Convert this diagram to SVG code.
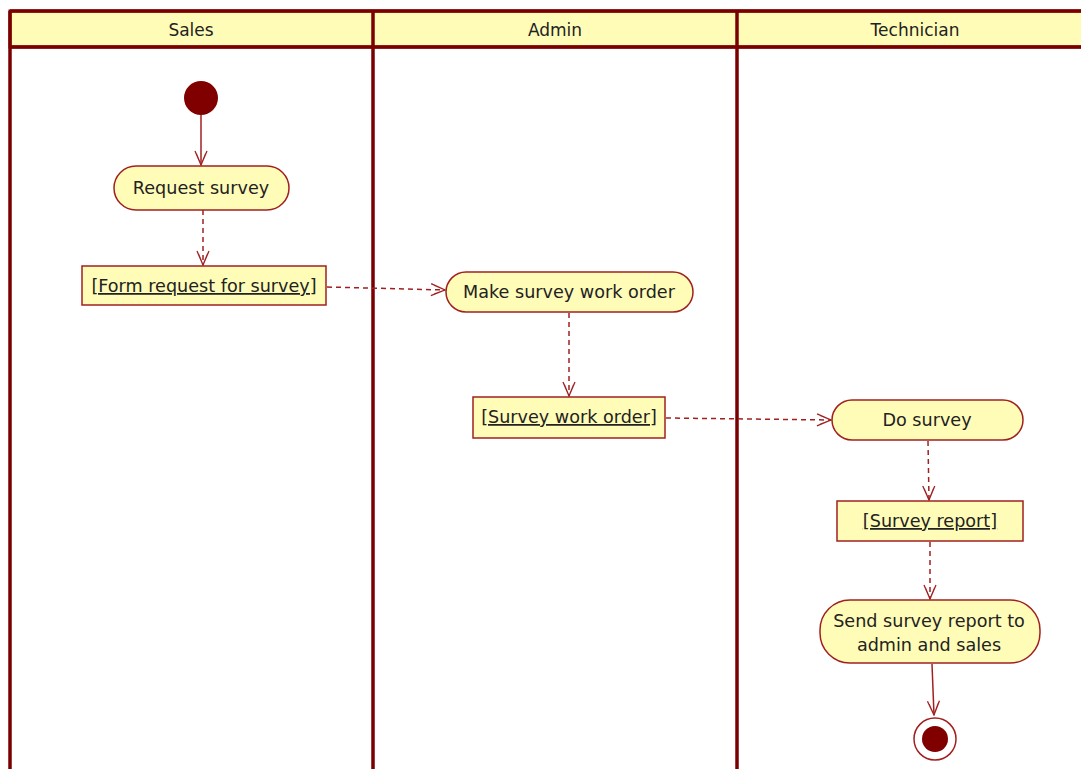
<svg xmlns="http://www.w3.org/2000/svg" width="1081" height="769" viewBox="0 0 1081 769">
<defs>
<style>
.lane{fill:none;stroke:#7a0000;stroke-width:3.5}
.hdr{fill:#fffcb8;stroke:#7a0000;stroke-width:3}
.act{fill:#fffcb8;stroke:#a02020;stroke-width:1.5}
.obj{fill:#fffcb8;stroke:#a02020;stroke-width:1.5}
.t{font-family:"DejaVu Sans","Liberation Sans",sans-serif;font-size:17.6px;fill:#222;text-anchor:middle}
.h{font-size:17px}
.u{text-decoration:underline}
.dash{fill:none;stroke:#a02020;stroke-width:1.5;stroke-dasharray:5,4}
.solid{fill:none;stroke:#a02020;stroke-width:1.5}
</style>
<marker id="open" viewBox="0 0 16 16" refX="15" refY="8" markerWidth="16" markerHeight="16" markerUnits="userSpaceOnUse" orient="auto">
<path d="M1,2 L15,8 L1,14 M4,3.5 L15,8 L4,12.5" fill="none" stroke="#a02020" stroke-width="1.3"/>
</marker>
</defs>
<rect width="1081" height="769" fill="#fff"/>
<g id="lanes">
<rect class="hdr" x="10" y="11" width="1075" height="36"/>
<line class="lane" x1="10" y1="11" x2="10" y2="769"/>
<line class="lane" x1="373" y1="11" x2="373" y2="769"/>
<line class="lane" x1="737" y1="11" x2="737" y2="769"/>
<line class="lane" x1="10" y1="11" x2="1081" y2="11"/>
<line class="lane" x1="10" y1="47" x2="1081" y2="47"/>
<text class="t h" x="191" y="36">Sales</text>
<text class="t h" x="555" y="36">Admin</text>
<text class="t h" x="915" y="36">Technician</text>
</g>
<g id="connectors">
<line class="solid" x1="201" y1="115" x2="201" y2="165" marker-end="url(#open)"/>
<line class="dash" x1="203" y1="210" x2="203" y2="265" marker-end="url(#open)"/>
<line class="dash" x1="327" y1="287" x2="445" y2="290" marker-end="url(#open)"/>
<line class="dash" x1="569" y1="313" x2="569" y2="396" marker-end="url(#open)"/>
<line class="dash" x1="666" y1="418" x2="831" y2="420" marker-end="url(#open)"/>
<line class="dash" x1="928" y1="441" x2="929" y2="500" marker-end="url(#open)"/>
<line class="dash" x1="930" y1="542" x2="930" y2="599" marker-end="url(#open)"/>
<line class="solid" x1="932" y1="664" x2="934" y2="715" marker-end="url(#open)"/>
</g>
<g id="start"><circle cx="201" cy="98" r="17" fill="#800000"/></g>
<g id="request-survey">
<rect class="act" x="114" y="166" width="175" height="44" rx="22"/>
<text class="t" x="201" y="194">Request survey</text>
</g>
<g id="form-request">
<rect class="obj" x="82" y="266" width="244" height="39"/>
<text class="t u" x="204" y="292">[Form request for survey]</text>
</g>
<g id="make-work-order">
<rect class="act" x="446" y="272" width="247" height="40" rx="20"/>
<text class="t" x="569" y="298">Make survey work order</text>
</g>
<g id="survey-work-order">
<rect class="obj" x="473" y="397" width="192" height="41"/>
<text class="t u" x="569" y="423">[Survey work order]</text>
</g>
<g id="do-survey">
<rect class="act" x="832" y="400" width="191" height="40" rx="20"/>
<text class="t" x="927" y="426">Do survey</text>
</g>
<g id="survey-report">
<rect class="obj" x="837" y="501" width="186" height="40"/>
<text class="t u" x="930" y="527">[Survey report]</text>
</g>
<g id="send-report">
<rect class="act" x="820" y="600" width="220" height="63" rx="30"/>
<text class="t" x="929" y="627">Send survey report to</text>
<text class="t" x="929" y="651">admin and sales</text>
</g>
<g id="end">
<circle cx="935" cy="739" r="21" fill="#fff" stroke="#a02020" stroke-width="1.5"/>
<circle cx="935" cy="739" r="13" fill="#800000"/>
</g>
</svg>
